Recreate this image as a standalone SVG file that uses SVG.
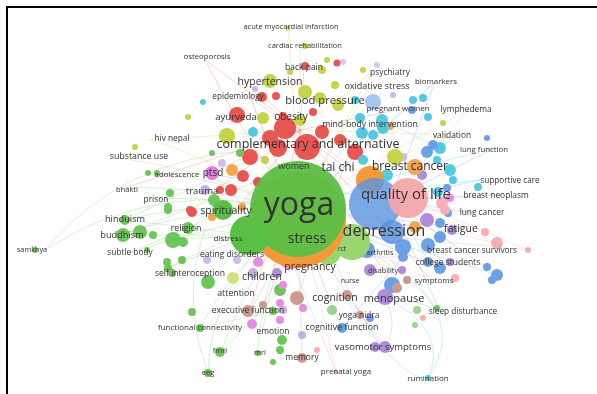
<svg xmlns="http://www.w3.org/2000/svg" width="597" height="394" viewBox="0 0 597 394">
<style>
.l{font-family:"Open Sans","DejaVu Sans",sans-serif;fill:#333;text-anchor:middle}
.e{fill:none;stroke-width:.7;stroke-opacity:.38}
.eg{stroke:#6cc75a}.er{stroke:#e85a50}.eb{stroke:#5a8ee0}.ey{stroke:#c2cc3a}.ep{stroke:#a680d8}.ec{stroke:#40c4de}.eo{stroke:#f29a40}.em{stroke:#e47ad8}.en{stroke:#c49080}.es{stroke:#f2a0a8}
.g{fill:#5bbf46}.r{fill:#e5403c}.b{fill:#5a93e2}.y{fill:#bfcd34}.p{fill:#a57ed8}.c{fill:#3ec2de}.o{fill:#f29a3a}.m{fill:#e27edb}.n{fill:#c48e7e}.s{fill:#f4a6ab}.lg{fill:#9ad670}
#minor-nodes{opacity:.88}
</style>
<rect width="597" height="394" fill="#fff"/>
<path d="M7 394V7H597" fill="none" stroke="#000" stroke-width="2"/>
<g id="connectors">
<path class="e eg" d="M298 212Q160 175 45 250"/>
<path class="e eg" d="M45 250Q120 160 250 150"/>
<path class="e eg" d="M298 212Q200 205 122 235"/>
<path class="e eg" d="M298 212Q200 200 125 220"/>
<path class="e eg" d="M298 212Q210 225 130 253"/>
<path class="e eg" d="M298 212Q210 185 125 188"/>
<path class="e eg" d="M298 212Q220 195 150 199"/>
<path class="e eg" d="M298 212Q230 180 160 174"/>
<path class="e eg" d="M298 212Q220 240 160 272"/>
<path class="e eg" d="M298 212Q210 280 208 372"/>
<path class="e eg" d="M208 372Q180 300 205 230"/>
<path class="e eg" d="M298 212Q240 290 222 351"/>
<path class="e eg" d="M298 212Q260 290 258 352"/>
<path class="e eg" d="M298 212Q230 270 200 328"/>
<path class="e eg" d="M298 212Q270 280 262 333"/>
<path class="e eg" d="M298 212Q260 260 230 294"/>
<path class="e eg" d="M298 212Q400 260 440 312"/>
<path class="e eg" d="M200 328L273 311"/>
<path class="e eg" d="M222 351L280 290"/>
<path class="e eg" d="M125 220L250 160"/>
<path class="e eg" d="M123 235L260 180"/>
<path class="e eg" d="M130 253L250 200"/>
<path class="e ey" d="M298 212Q220 160 150 140"/>
<path class="e ey" d="M298 212Q210 170 120 158"/>
<path class="e en" d="M298 212Q300 290 302 357"/>
<path class="e en" d="M298 212Q275 270 250 311"/>
<path class="e es" d="M298 212Q320 300 336 372"/>
<path class="e es" d="M298 212Q370 250 432 281"/>
<path class="e es" d="M298 212Q400 220 497 243"/>
<path class="e es" d="M298 212Q390 205 475 213"/>
<path class="e es" d="M298 212Q400 195 500 195"/>
<path class="e es" d="M298 212Q390 150 468 110"/>
<path class="e ep" d="M298 212Q340 290 385 347"/>
<path class="e ep" d="M298 212Q380 215 461 229"/>
<path class="e ep" d="M298 212Q270 150 250 97"/>
<path class="e ec" d="M298 212Q390 190 480 180"/>
<path class="e ec" d="M298 212Q400 170 495 148"/>
<path class="e eb" d="M298 212Q370 240 430 263"/>
<path class="e eb" d="M298 212Q370 140 435 82"/>
<path class="e eb" d="M298 212Q320 280 342 328"/>
<path class="e ey" d="M298 212Q380 160 455 135"/>
<path class="e ey" d="M298 212Q340 130 372 72"/>
<path class="e ey" d="M298 212Q335 140 370 87"/>
<path class="e ey" d="M298 212Q300 120 300 46"/>
<path class="e ey" d="M298 212Q295 110 288 28"/>
<path class="e ey" d="M298 212Q265 140 245 80"/>
<path class="e er" d="M298 212Q300 130 304 66"/>
<path class="e er" d="M298 212Q240 130 205 60"/>
<path class="e eo" d="M298 212Q360 150 405 108"/>
<path class="e er" d="M300 130L245 80"/>
<path class="e er" d="M300 130L205 60"/>
<path class="e ey" d="M300 130L372 72"/>
<path class="e ey" d="M300 130L455 135"/>
<path class="e ey" d="M300 130L150 140"/>
<path class="e er" d="M300 130L215 190"/>
<path class="e er" d="M300 130L235 212"/>
<path class="e er" d="M300 130L125 188"/>
<path class="e er" d="M300 130L405 108"/>
<path class="e er" d="M300 130L250 311"/>
<path class="e er" d="M300 130L432 281"/>
<path class="e eb" d="M390 200L495 148"/>
<path class="e eb" d="M390 200L480 180"/>
<path class="e eb" d="M390 200L500 195"/>
<path class="e eb" d="M390 200L475 213"/>
<path class="e es" d="M390 200L497 243"/>
<path class="e eb" d="M390 200L430 263"/>
<path class="e es" d="M390 200L468 110"/>
<path class="e eb" d="M390 200L435 82"/>
<path class="e ec" d="M390 200L455 135"/>
<path class="e eb" d="M390 200L440 312"/>
<path class="e eb" d="M390 200L497 275"/>
<path class="e eb" d="M390 200L250 97"/>
<path class="e eb" d="M390 200L213 175"/>
<path class="e ec" d="M385 297Q450 330 428 378"/>
<path class="e ec" d="M390 260Q470 320 428 378"/>
<path class="e ec" d="M345 298Q400 380 428 378"/>
<path class="e ep" d="M385 297Q400 330 383 347"/>
<path class="e ep" d="M330 250Q360 320 383 347"/>
<path class="e eg" d="M385 297Q420 300 440 312"/>
<path class="e em" d="M290 257L336 372"/>
<path class="e em" d="M290 257L252 324"/>
<path class="e em" d="M290 257L212 173"/>
<path class="e em" d="M290 257L403 257"/>
<path class="e ep" d="M212 173L300 130"/>
<path class="e eg" d="M250 235L125 220"/>
<path class="e eg" d="M250 235L123 235"/>
<path class="e eg" d="M250 235L173 240"/>
<path class="e eg" d="M250 235L168 268"/>
<path class="e eg" d="M250 235L208 282"/>
<path class="e eb" d="M370 235L497 275"/>
<path class="e eb" d="M370 235L403 247"/>
<path class="e es" d="M370 235L528 250"/>
<path class="e eo" d="M370 180L300 130"/>
<path class="e ec" d="M360 125L298 212"/>
<path class="e ec" d="M382 120L440 148"/>
<path class="e er" d="M307 147L392 285"/>
<path class="e eb" d="M342 328L403 257"/>
<path class="e en" d="M297 298L350 150"/>
<path class="e es" d="M406 198L528 250"/>
</g>
<g id="minor-nodes">
<circle class="y" cx="288" cy="28" r="2.5"/>
<circle class="y" cx="305" cy="46" r="3"/>
<circle class="r" cx="305" cy="66" r="4"/>
<circle class="y" cx="322" cy="70" r="4"/>
<circle class="r" cx="337" cy="63" r="3.5"/>
<circle class="y" cx="327" cy="60" r="3"/>
<circle class="y" cx="290" cy="72" r="3"/>
<circle class="y" cx="270" cy="81" r="7"/>
<circle class="r" cx="276" cy="96" r="4"/>
<circle class="p" cx="255" cy="89" r="3" opacity=".6"/>
<circle class="r" cx="262" cy="97" r="5"/>
<circle class="y" cx="305" cy="92" r="7"/>
<circle class="y" cx="320" cy="98" r="6"/>
<circle class="y" cx="335" cy="85" r="4"/>
<circle class="y" cx="338" cy="105" r="6"/>
<circle class="r" cx="313" cy="112" r="4"/>
<circle class="r" cx="237" cy="115" r="8"/>
<circle class="y" cx="263" cy="118" r="6"/>
<circle class="r" cx="283" cy="116" r="4"/>
<circle class="y" cx="300" cy="120" r="6"/>
<circle class="c" cx="203" cy="102" r="3"/>
<circle class="y" cx="188" cy="117" r="3"/>
<circle class="p" cx="343" cy="62" r="3" opacity=".5"/>
<circle class="p" cx="393" cy="95" r="3" opacity=".6"/>
<circle class="b" cx="373" cy="102" r="8" opacity=".6"/>
<circle class="c" cx="355" cy="100" r="4"/>
<circle class="c" cx="413" cy="100" r="4"/>
<circle class="c" cx="423" cy="98" r="4"/>
<circle class="y" cx="363" cy="70" r="3"/>
<circle class="p" cx="377" cy="65" r="3" opacity=".5"/>
<circle class="b" cx="412" cy="110" r="4"/>
<circle class="c" cx="428" cy="117" r="4"/>
<circle class="y" cx="443" cy="123" r="3"/>
<circle class="c" cx="382" cy="120" r="6"/>
<circle class="o" cx="390" cy="126" r="4"/>
<circle class="c" cx="360" cy="118" r="5"/>
<circle class="y" cx="135" cy="147" r="3"/>
<circle class="g" cx="148" cy="173" r="3"/>
<circle class="g" cx="157" cy="173" r="3"/>
<circle class="g" cx="212" cy="153" r="3"/>
<circle class="p" cx="222" cy="163" r="4" opacity=".6"/>
<circle class="o" cx="232" cy="170" r="6"/>
<circle class="r" cx="250" cy="157" r="8"/>
<circle class="r" cx="243" cy="176" r="6"/>
<circle class="r" cx="258" cy="182" r="5"/>
<circle class="r" cx="231" cy="190" r="6"/>
<circle class="r" cx="220" cy="190" r="4"/>
<circle class="p" cx="205" cy="190" r="5" opacity=".7"/>
<circle class="g" cx="170" cy="193" r="4"/>
<circle class="g" cx="214" cy="200" r="6"/>
<circle class="g" cx="168" cy="207" r="4"/>
<circle class="o" cx="212" cy="217" r="4"/>
<circle class="o" cx="242" cy="207" r="4"/>
<circle class="r" cx="190" cy="210" r="4"/>
<circle class="y" cx="227" cy="136" r="8"/>
<circle class="c" cx="253" cy="132" r="5"/>
<circle class="r" cx="270" cy="138" r="8"/>
<circle class="r" cx="285" cy="128" r="11"/>
<circle class="r" cx="278" cy="148" r="9"/>
<circle class="g" cx="240" cy="153" r="4"/>
<circle class="y" cx="265" cy="160" r="4"/>
<circle class="g" cx="125" cy="220" r="5"/>
<circle class="g" cx="140" cy="232" r="7"/>
<circle class="g" cx="123" cy="235" r="7"/>
<circle class="g" cx="153" cy="235" r="4"/>
<circle class="g" cx="173" cy="240" r="8"/>
<circle class="g" cx="183" cy="242" r="5"/>
<circle class="g" cx="168" cy="210" r="4"/>
<circle class="r" cx="192" cy="212" r="5"/>
<circle class="g" cx="35" cy="250" r="3"/>
<circle class="g" cx="147" cy="250" r="3"/>
<circle class="g" cx="167" cy="262" r="4"/>
<circle class="g" cx="182" cy="260" r="4"/>
<circle class="g" cx="168" cy="268" r="4"/>
<circle class="g" cx="172" cy="273" r="4"/>
<circle class="g" cx="188" cy="228" r="6"/>
<circle class="g" cx="208" cy="282" r="7"/>
<circle class="y" cx="233" cy="278" r="6" opacity=".7"/>
<circle class="g" cx="280" cy="290" r="6"/>
<circle class="n" cx="297" cy="298" r="7"/>
<circle class="m" cx="258" cy="262" r="5"/>
<circle class="m" cx="283" cy="285" r="4"/>
<circle class="p" cx="277" cy="273" r="5"/>
<circle class="p" cx="253" cy="273" r="5" opacity=".7"/>
<circle class="p" cx="237" cy="260" r="4" opacity=".6"/>
<circle class="p" cx="207" cy="260" r="4" opacity=".6"/>
<circle class="b" cx="367" cy="250" r="8"/>
<circle class="p" cx="370" cy="270" r="6"/>
<circle class="b" cx="392" cy="285" r="8"/>
<circle class="n" cx="347" cy="295" r="5"/>
<circle class="n" cx="263" cy="305" r="4"/>
<circle class="p" cx="385" cy="297" r="8"/>
<circle class="g" cx="192" cy="312" r="4"/>
<circle class="n" cx="248" cy="311" r="6"/>
<circle class="g" cx="273" cy="311" r="4"/>
<circle class="p" cx="283" cy="310" r="4" opacity=".7"/>
<circle class="m" cx="280" cy="303" r="4"/>
<circle class="m" cx="252" cy="324" r="5"/>
<circle class="g" cx="200" cy="328" r="4"/>
<circle class="m" cx="280" cy="320" r="4"/>
<circle class="g" cx="282" cy="340" r="5"/>
<circle class="g" cx="280" cy="350" r="4"/>
<circle class="g" cx="273" cy="362" r="3"/>
<circle class="p" cx="302" cy="335" r="4" opacity=".7"/>
<circle class="n" cx="302" cy="358" r="5"/>
<circle class="s" cx="317" cy="350" r="3"/>
<circle class="g" cx="220" cy="352" r="5"/>
<circle class="g" cx="258" cy="353" r="3"/>
<circle class="g" cx="208" cy="373" r="4"/>
<circle class="m" cx="303" cy="308" r="4"/>
<circle class="n" cx="360" cy="315" r="4"/>
<circle class="b" cx="370" cy="318" r="4"/>
<circle class="b" cx="342" cy="328" r="5"/>
<circle class="p" cx="385" cy="347" r="6"/>
<circle class="p" cx="375" cy="347" r="5"/>
<circle class="c" cx="428" cy="378" r="3"/>
<circle class="g" cx="417" cy="310" r="4" opacity=".7"/>
<circle class="g" cx="415" cy="325" r="3" opacity=".7"/>
<circle class="s" cx="423" cy="318" r="3"/>
<circle class="g" cx="437" cy="308" r="3"/>
<circle class="g" cx="332" cy="310" r="5" opacity=".7"/>
<circle class="s" cx="336" cy="372" r="2.5"/>
<circle class="s" cx="442" cy="203" r="6"/>
<circle class="b" cx="448" cy="213" r="4"/>
<circle class="p" cx="427" cy="220" r="7"/>
<circle class="o" cx="415" cy="227" r="6"/>
<circle class="b" cx="440" cy="223" r="5"/>
<circle class="p" cx="452" cy="230" r="5"/>
<circle class="s" cx="485" cy="232" r="4"/>
<circle class="b" cx="440" cy="237" r="6"/>
<circle class="b" cx="428" cy="245" r="7"/>
<circle class="b" cx="403" cy="247" r="8"/>
<circle class="s" cx="497" cy="243" r="6"/>
<circle class="s" cx="528" cy="250" r="3"/>
<circle class="b" cx="403" cy="257" r="5"/>
<circle class="b" cx="428" cy="262" r="5"/>
<circle class="p" cx="450" cy="262" r="4"/>
<circle class="b" cx="440" cy="268" r="6"/>
<circle class="b" cx="487" cy="267" r="4"/>
<circle class="b" cx="497" cy="275" r="6"/>
<circle class="b" cx="492" cy="280" r="4"/>
<circle class="s" cx="455" cy="278" r="4"/>
<circle class="p" cx="402" cy="270" r="4"/>
<circle class="n" cx="407" cy="280" r="4"/>
<circle class="n" cx="397" cy="288" r="5"/>
<circle class="b" cx="487" cy="138" r="3"/>
<circle class="c" cx="440" cy="148" r="6"/>
<circle class="b" cx="433" cy="145" r="5"/>
<circle class="b" cx="427" cy="152" r="6"/>
<circle class="c" cx="450" cy="170" r="6"/>
<circle class="c" cx="437" cy="160" r="4"/>
<circle class="p" cx="403" cy="157" r="4" opacity=".6"/>
<circle class="p" cx="422" cy="175" r="5"/>
<circle class="b" cx="447" cy="188" r="4"/>
<circle class="c" cx="438" cy="192" r="5"/>
<circle class="s" cx="445" cy="210" r="5"/>
<circle class="m" cx="450" cy="198" r="4"/>
<circle class="c" cx="478" cy="187" r="4"/>
<circle class="c" cx="453" cy="180" r="4"/>
<circle class="c" cx="387" cy="175" r="6"/>
<circle class="y" cx="395" cy="157" r="8"/>
<circle class="o" cx="415" cy="167" r="8"/>
<circle class="c" cx="362" cy="133" r="6"/>
<circle class="c" cx="373" cy="135" r="5"/>
<circle class="c" cx="383" cy="128" r="6"/>
<circle class="r" cx="307" cy="147" r="13"/>
<circle class="r" cx="355" cy="152" r="8"/>
<circle class="r" cx="340" cy="140" r="6"/>
<circle class="r" cx="322" cy="132" r="7"/>
<circle class="c" cx="363" cy="160" r="5"/>
<circle class="b" cx="363" cy="182" r="6"/>
</g>
<g id="major-nodes">
<circle class="m" cx="212" cy="173" r="7"/>
<circle class="g" cx="223" cy="210" r="10"/>
<circle class="o" cx="370" cy="180" r="14"/>
<circle class="b" cx="375" cy="204" r="26" opacity=".8"/>
<circle class="s" cx="408" cy="198" r="20" opacity=".95"/>
<circle class="lg" cx="352" cy="242" r="18"/>
<circle class="b" cx="392" cy="232" r="12" opacity=".85"/>
<circle class="m" cx="290" cy="257" r="12"/>
<circle class="lg" cx="328" cy="252" r="13"/>
<circle class="o" cx="298" cy="220" r="48"/>
<circle class="g" cx="250" cy="235" r="20"/>
<circle class="g" cx="298" cy="209" r="48" opacity=".95"/>
</g>
<g id="labels">
<text class="l" x="291" y="29" font-size="7.5">acute myocardial infarction</text>
<text class="l" x="305" y="48" font-size="7.5">cardiac rehabilitation</text>
<text class="l" x="207" y="59" font-size="7.8">osteoporosis</text>
<text class="l" x="304" y="70" font-size="8.5">back pain</text>
<text class="l" x="270" y="85" font-size="10.5">hypertension</text>
<text class="l" x="238" y="99" font-size="8.2">epidemiology</text>
<text class="l" x="325" y="104" font-size="11.3">blood pressure</text>
<text class="l" x="236" y="120" font-size="9.7">ayurveda</text>
<text class="l" x="291" y="120" font-size="10">obesity</text>
<text class="l" x="390" y="75" font-size="8.4">psychiatry</text>
<text class="l" x="377" y="89" font-size="9">oxidative stress</text>
<text class="l" x="436" y="84" font-size="7.9">biomarkers</text>
<text class="l" x="398" y="111" font-size="7.9">pregnant women</text>
<text class="l" x="466" y="112" font-size="8.4">lymphedema</text>
<text class="l" x="370" y="127" font-size="8.7">mind-body intervention</text>
<text class="l" x="452" y="138" font-size="8.4">validation</text>
<text class="l" x="484" y="152" font-size="7.8">lung function</text>
<text class="l" x="308" y="148" font-size="12.5">complementary and alternative</text>
<text class="l" x="294" y="169" font-size="9">women</text>
<text class="l" x="338" y="171" font-size="12">tai chi</text>
<text class="l" x="410" y="170" font-size="12">breast cancer</text>
<text class="l" x="510" y="183" font-size="8.2">supportive care</text>
<text class="l" x="406" y="199" font-size="15">quality of life</text>
<text class="l" x="496" y="198" font-size="8.4">breast neoplasm</text>
<text class="l" x="482" y="215" font-size="8.3">lung cancer</text>
<text class="l" x="461" y="232" font-size="10.5">fatigue</text>
<text class="l" x="472" y="253" font-size="8.3">breast cancer survivors</text>
<text class="l" x="448" y="265" font-size="8.5">college students</text>
<text class="l" x="434" y="283" font-size="8">symptoms</text>
<text class="l" x="463" y="314" font-size="8.3">sleep disturbance</text>
<text class="l" x="299" y="215" font-size="32">yoga</text>
<text class="l" x="384" y="236" font-size="16">depression</text>
<text class="l" x="307" y="243" font-size="14">stress</text>
<text class="l" x="342" y="251" font-size="7">rct</text>
<text class="l" x="380" y="255" font-size="7.3">arthritis</text>
<text class="l" x="383" y="273" font-size="7.3">disability</text>
<text class="l" x="350" y="283" font-size="7">nurse</text>
<text class="l" x="310" y="270" font-size="10.5">pregnancy</text>
<text class="l" x="262" y="280" font-size="10.5">children</text>
<text class="l" x="335" y="301" font-size="10.5">cognition</text>
<text class="l" x="394" y="302" font-size="11">menopause</text>
<text class="l" x="359" y="318" font-size="8.3">yoga nidra</text>
<text class="l" x="342" y="330" font-size="8.8">cognitive function</text>
<text class="l" x="383" y="350" font-size="9.5">vasomotor symptoms</text>
<text class="l" x="346" y="374" font-size="7.9">prenatal yoga</text>
<text class="l" x="428" y="381" font-size="8">rumination</text>
<text class="l" x="302" y="360" font-size="8.5">memory</text>
<text class="l" x="260" y="355" font-size="7.5">mri</text>
<text class="l" x="220" y="353" font-size="7.5">fmri</text>
<text class="l" x="208" y="375" font-size="7.5">eeg</text>
<text class="l" x="273" y="334" font-size="8.4">emotion</text>
<text class="l" x="200" y="330" font-size="8">functional connectivity</text>
<text class="l" x="248" y="313" font-size="8.5">executive function</text>
<text class="l" x="236" y="296" font-size="8.8">attention</text>
<text class="l" x="232" y="257" font-size="8.5">eating disorders</text>
<text class="l" x="228" y="241" font-size="8">distress</text>
<text class="l" x="190" y="276" font-size="8.6">self interoception</text>
<text class="l" x="130" y="255" font-size="8.3">subtle body</text>
<text class="l" x="32" y="252" font-size="7.3">samkhya</text>
<text class="l" x="122" y="238" font-size="9.2">buddhism</text>
<text class="l" x="125" y="222" font-size="9.2">hinduism</text>
<text class="l" x="186" y="231" font-size="8.8">religion</text>
<text class="l" x="226" y="214" font-size="10.5">spirituality</text>
<text class="l" x="156" y="202" font-size="8.4">prison</text>
<text class="l" x="127" y="192" font-size="7.5">bhakti</text>
<text class="l" x="202" y="194" font-size="9.5">trauma</text>
<text class="l" x="213" y="176" font-size="10">ptsd</text>
<text class="l" x="177" y="177" font-size="7.8">adolescence</text>
<text class="l" x="139" y="159" font-size="8.8">substance use</text>
<text class="l" x="172" y="141" font-size="8.3">hiv nepal</text>
</g>
</svg>
